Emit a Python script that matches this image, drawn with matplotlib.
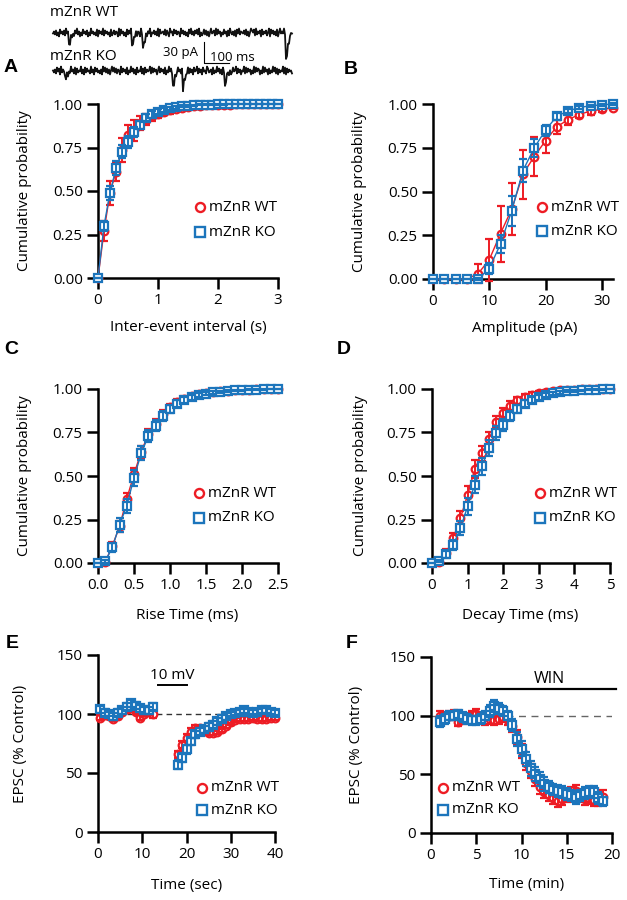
import numpy as np
import matplotlib
matplotlib.use("Agg")
import matplotlib.pyplot as plt

plt.rcParams['font.family'] = ['Open Sans', 'DejaVu Sans']

RED = '#ED1C24'
BLUE = '#1C75BC'
FS = 11

# ---------------- data ----------------
# A: inter-event interval (s)
a_x = [0.0, 0.1, 0.2, 0.3, 0.4, 0.5, 0.6, 0.7, 0.8, 0.9, 1.0, 1.1, 1.2, 1.3, 1.4, 1.5,
       1.6, 1.7, 1.8, 1.9, 2.0, 2.1, 2.2, 2.3, 2.4, 2.5, 2.6, 2.7, 2.8, 2.9, 3.0]
a_wt = [0, 0.27, 0.49, 0.61, 0.735, 0.82, 0.85, 0.89, 0.91, 0.93, 0.945, 0.955, 0.965, 0.972,
        0.978, 0.983, 0.987, 0.99, 0.992, 0.994, 0.995, 0.996, 0.997, 0.998, 0.998, 0.999,
        0.999, 1.0, 1.0, 1.0, 1.0]
a_wt_err = [0, 0.06, 0.07, 0.05, 0.07, 0.06, 0.06, 0.04, 0.03, 0.03, 0.025, 0.02, 0.02, 0.015,
            0.012, 0.01, 0.01, 0.008, 0.006, 0.005, 0.004, 0.003, 0.003, 0.002, 0.002, 0.001,
            0.001, 0.001, 0, 0, 0]
a_ko = [0, 0.30, 0.49, 0.63, 0.727, 0.78, 0.84, 0.88, 0.92, 0.94, 0.955, 0.965, 0.975, 0.982,
        0.987, 0.99, 0.993, 0.995, 0.996, 0.997, 0.998, 0.998, 0.999, 0.999, 1.0, 1.0, 1.0,
        1.0, 1.0, 1.0, 1.0]
a_ko_err = [0, 0.03, 0.04, 0.04, 0.04, 0.035, 0.03, 0.025, 0.02, 0.02, 0.015, 0.012, 0.01,
            0.008, 0.006, 0.005, 0.004, 0.003, 0.002, 0.002, 0.001, 0.001, 0.001, 0, 0, 0, 0,
            0, 0, 0, 0]

# B: amplitude (pA)
b_x = [0, 2, 4, 6, 8, 10, 12, 14, 16, 18, 20, 22, 24, 26, 28, 30, 32]
b_wt = [0, 0, 0, 0, 0.03, 0.11, 0.26, 0.40, 0.60, 0.70, 0.79, 0.87, 0.91, 0.94, 0.96, 0.97, 0.98]
b_wt_err = [0, 0, 0, 0, 0.055, 0.12, 0.16, 0.15, 0.14, 0.11, 0.07, 0.04, 0.03, 0.02, 0.02, 0.015, 0.01]
b_ko = [0, 0, 0, 0, 0, 0.06, 0.20, 0.39, 0.62, 0.75, 0.85, 0.93, 0.96, 0.98, 0.99, 0.995, 1.0]
b_ko_err = [0, 0, 0, 0, 0.005, 0.03, 0.05, 0.085, 0.065, 0.05, 0.03, 0.02, 0.01, 0.01, 0.005, 0.005, 0.003]

# C: rise time (ms)
c_x = [0.0, 0.1, 0.2, 0.3, 0.4, 0.5, 0.6, 0.7, 0.8, 0.9, 1.0, 1.1, 1.2, 1.3, 1.4, 1.5,
       1.6, 1.7, 1.8, 1.9, 2.0, 2.1, 2.2, 2.3, 2.4, 2.5]
c_wt = [0, 0.005, 0.10, 0.21, 0.37, 0.51, 0.64, 0.74, 0.80, 0.855, 0.895, 0.925, 0.945,
        0.96, 0.97, 0.978, 0.984, 0.988, 0.991, 0.994, 0.996, 0.997, 0.998, 0.999, 1.0, 1.0]
c_wt_err = [0, 0.005, 0.02, 0.03, 0.035, 0.035, 0.035, 0.03, 0.03, 0.025, 0.02, 0.018, 0.015,
            0.012, 0.01, 0.008, 0.006, 0.005, 0.004, 0.003, 0.002, 0.002, 0.001, 0.001, 0, 0]
c_ko = [0, 0.01, 0.09, 0.22, 0.33, 0.49, 0.63, 0.73, 0.79, 0.845, 0.885, 0.915, 0.937, 0.952,
        0.964, 0.973, 0.98, 0.985, 0.989, 0.992, 0.994, 0.996, 0.997, 0.998, 0.999, 1.0]
c_ko_err = [0, 0.01, 0.025, 0.04, 0.04, 0.045, 0.04, 0.035, 0.03, 0.03, 0.025, 0.02, 0.018,
            0.015, 0.012, 0.01, 0.008, 0.006, 0.005, 0.004, 0.003, 0.002, 0.002, 0.001, 0.001, 0]

# D: decay time (ms)
d_x = [0.0, 0.2, 0.4, 0.6, 0.8, 1.0, 1.2, 1.4, 1.6, 1.8, 2.0, 2.2, 2.4, 2.6, 2.8, 3.0,
       3.2, 3.4, 3.6, 3.8, 4.0, 4.2, 4.4, 4.6, 4.8, 5.0]
d_wt = [0, 0.005, 0.06, 0.145, 0.26, 0.39, 0.54, 0.63, 0.71, 0.81, 0.86, 0.905, 0.935, 0.955,
        0.968, 0.977, 0.984, 0.989, 0.992, 0.995, 0.997, 0.998, 0.999, 0.999, 1.0, 1.0]
d_wt_err = [0, 0.005, 0.02, 0.03, 0.04, 0.05, 0.05, 0.045, 0.04, 0.035, 0.03, 0.025, 0.02,
            0.018, 0.015, 0.012, 0.01, 0.008, 0.006, 0.005, 0.004, 0.003, 0.002, 0.002, 0.001, 0]
d_ko = [0, 0.01, 0.05, 0.105, 0.20, 0.325, 0.45, 0.555, 0.66, 0.745, 0.795, 0.845, 0.885, 0.915,
        0.935, 0.952, 0.965, 0.975, 0.982, 0.987, 0.99, 0.993, 0.995, 0.997, 0.998, 0.999]
d_ko_err = [0, 0.005, 0.02, 0.03, 0.04, 0.05, 0.05, 0.05, 0.045, 0.04, 0.035, 0.03, 0.025,
            0.02, 0.018, 0.015, 0.012, 0.01, 0.008, 0.006, 0.005, 0.004, 0.003, 0.002, 0.002, 0.001]

# E: time (sec)
e_x = [0.5, 1.5, 2.5, 3.5, 4.5, 5.5, 6.5, 7.5, 8.5, 9.5, 10.5, 11.5, 12.5,
       18, 19, 20, 21, 22, 23, 24, 25, 26, 27, 28, 29, 30, 31, 32, 33, 34, 35, 36, 37, 38, 39, 40]
e_wt = [97, 99, 98, 96, 98, 102, 104, 105, 102, 97, 100, 102, 100,
        66, 74, 80, 85, 88, 88, 86, 84, 84, 85, 87, 90, 93, 95, 96, 96, 96, 97, 96, 96, 96, 97, 97]
e_wt_err = [2, 2, 2, 2, 2, 3, 3, 3, 2, 2, 2, 3, 3,
            3, 3, 3, 3, 3, 2, 2, 2, 2, 2, 2, 2, 2, 2, 2, 2, 2, 2, 2, 2, 2, 2, 2]
e_ko = [104, 101, 100, 98, 101, 103, 106, 109, 107, 105, 103, 103, 106,
        57, 63, 70, 77, 83, 85, 87, 89, 91, 94, 96, 98, 100, 101, 102, 103, 102, 101, 102, 103,
        103, 102, 101]
e_ko_err = [3, 3, 2, 3, 3, 3, 3, 3, 3, 3, 3, 3, 3,
            4, 4, 4, 3, 3, 3, 3, 3, 3, 3, 3, 3, 2, 2, 2, 2, 2, 2, 2, 2, 2, 2, 2]

# F: time (min)
f_x = [1, 1.5, 2, 2.5, 3, 3.5, 4, 4.5, 5, 5.5, 6, 6.5, 7, 7.5, 8, 8.5, 9, 9.5, 10, 10.5,
       11, 11.5, 12, 12.5, 13, 13.5, 14, 14.5, 15, 15.5, 16, 16.5, 17, 17.5, 18, 18.5, 19]
f_wt = [100, 99, 100, 101, 95, 97, 98, 100, 101, 98, 96, 97, 96, 97, 99, 96, 91, 82, 70, 60,
        53, 46, 39, 35, 32, 30, 27, 29, 31, 34, 36, 31, 29, 30, 28, 28, 31]
f_wt_err = [4, 4, 4, 4, 4, 4, 4, 4, 5, 4, 4, 4, 4, 4, 4, 4, 5, 6, 6, 6,
            6, 6, 6, 5, 5, 5, 5, 5, 5, 5, 5, 5, 5, 5, 5, 5, 6]
f_ko = [95, 97, 100, 100, 101, 99, 97, 96, 96, 97, 100, 104, 108, 106, 104, 100, 92, 80, 72, 63,
        55, 50, 46, 42, 39, 37, 36, 35, 33, 32, 30, 32, 34, 35, 35, 30, 27]
f_ko_err = [5, 4, 4, 4, 4, 4, 4, 4, 4, 4, 4, 5, 5, 5, 4, 4, 5, 6, 6, 6,
            6, 6, 6, 6, 5, 5, 5, 5, 5, 5, 5, 5, 5, 5, 5, 5, 4]

# example traces (noise digits typed per 4-ms sample, events as (sample, amplitude pA))
trace_wt_noise = ("4637251846372946518352749361528463715294635281746392746351824736519284"
                  "6251837496374826519356283749154736291845638274195628473651947362518493"
                  "6274839152483726159457293846153846172953627184936547382615975829364718"
                  "364725918473628159464938271564")
trace_ko_noise = ("5362847193648271539462817354926183745293618473526194837261594837265193"
                  "7462815394726183549271836459283746159374628153947261835946271835492736"
                  "1845927361845297346182539472618354972613845927361549283746152938476152"
                  "938461725394827163549281736452")
trace_wt_events = [(16, 17), (79, 20), (90, 22), (233, 42)]
trace_ko_events = [(12, 12), (120, 23), (130, 24), (172, 22)]
event_profile = [1.0, 0.7, 0.45, 0.25, 0.12, 0.05]

# ---------------- figure ----------------
W, H = 627, 900
fig = plt.figure(figsize=(W / 100, H / 100), dpi=100)


def add_ax(l, t, r, b):
    return fig.add_axes([l / W, 1 - b / H, (r - l) / W, (b - t) / H])


def style(ax):
    for s in ['top', 'right']:
        ax.spines[s].set_visible(False)
    for s in ['left', 'bottom']:
        ax.spines[s].set_linewidth(1.8)
    ax.tick_params(width=1.8, length=8, labelsize=FS, pad=3, color='black')


def series(ax, x, y, e, color, marker, z):
    cont = ax.errorbar(x, y, yerr=e, fmt='-' + marker, color=color, mfc='white', mec=color,
                       ms=5.5, mew=1.6, lw=1.0, elinewidth=1.4, capsize=3.2, capthick=1.4,
                       zorder=z)
    for art in cont.get_children():
        art.set_clip_on(False)
        art.set_zorder(z)
    cont.lines[0].set_clip_on(False)


def legend(ax, fx, fy1, fy2):
    for fy, col, mk, lab in [(fy1, RED, 'o', 'mZnR WT'), (fy2, BLUE, 's', 'mZnR KO')]:
        ax.plot([fx], [fy], marker=mk, ms=6.5, mfc='white', mec=col, mew=1.7,
                transform=ax.transAxes, clip_on=False, zorder=10)
        ax.text(fx + 0.05, fy, lab, transform=ax.transAxes, fontsize=FS, va='center',
                ha='left', zorder=10)


def labels(ax, xl, yl, xlc, ylc):
    ax.set_xlabel(xl, fontsize=FS)
    ax.set_ylabel(yl, fontsize=FS)
    ax.xaxis.label.set_va('center')
    ax.yaxis.label.set_va('center')
    ax.xaxis.set_label_coords(*xlc)
    ax.yaxis.set_label_coords(*ylc)


cum_ticks = [0, 0.25, 0.5, 0.75, 1.0]
cum_labels = ['0.00', '0.25', '0.50', '0.75', '1.00']

# A
axA = add_ax(98, 104, 278, 278)
style(axA)
series(axA, a_x, a_wt, a_wt_err, RED, 'o', 3)
series(axA, a_x, a_ko, a_ko_err, BLUE, 's', 4)
axA.set_xlim(0, 3)
axA.set_ylim(0, 1)
axA.set_xticks([0, 1, 2, 3])
axA.set_yticks(cum_ticks, cum_labels)
labels(axA, 'Inter-event interval (s)', 'Cumulative probability', (0.5, -0.287), (-0.406, 0.5))
legend(axA, 0.567, 0.408, 0.264)

# B
axB = add_ax(433, 104, 613, 279)
style(axB)
series(axB, b_x, b_wt, b_wt_err, RED, 'o', 3)
series(axB, b_x, b_ko, b_ko_err, BLUE, 's', 4)
axB.set_xlim(0, 32)
axB.set_ylim(0, 1)
axB.set_xticks([0, 10, 20, 30])
axB.set_yticks(cum_ticks, cum_labels)
labels(axB, 'Amplitude (pA)', 'Cumulative probability', (0.511, -0.28), (-0.406, 0.5))
legend(axB, 0.606, 0.411, 0.274)

# C
axC = add_ax(98, 389, 278, 563)
style(axC)
series(axC, c_x, c_wt, c_wt_err, RED, 'o', 3)
series(axC, c_x, c_ko, c_ko_err, BLUE, 's', 4)
axC.set_xlim(0, 2.5)
axC.set_ylim(0, 1)
axC.set_xticks([0, 0.5, 1.0, 1.5, 2.0, 2.5], ['0.0', '0.5', '1.0', '1.5', '2.0', '2.5'])
axC.set_yticks(cum_ticks, cum_labels)
labels(axC, 'Rise Time (ms)', 'Cumulative probability', (0.494, -0.299), (-0.406, 0.5))
legend(axC, 0.561, 0.402, 0.259)

# D
axD = add_ax(432, 389, 610, 563)
style(axD)
series(axD, d_x, d_wt, d_wt_err, RED, 'o', 3)
series(axD, d_x, d_ko, d_ko_err, BLUE, 's', 4)
axD.set_xlim(0, 5)
axD.set_ylim(0, 1)
axD.set_xticks([0, 1, 2, 3, 4, 5])
axD.set_yticks(cum_ticks, cum_labels)
labels(axD, 'Decay Time (ms)', 'Cumulative probability', (0.494, -0.299), (-0.404, 0.5))
legend(axD, 0.607, 0.402, 0.259)

# E
axE = add_ax(98, 655, 275, 832)
style(axE)
axE.plot([0, 40], [100, 100], ls=(0, (4, 3)), color='#333333', lw=1.0, zorder=1)
e_n = 13
series(axE, e_x[:e_n], e_wt[:e_n], e_wt_err[:e_n], RED, 'o', 3)
series(axE, e_x[e_n:], e_wt[e_n:], e_wt_err[e_n:], RED, 'o', 3)
series(axE, e_x[:e_n], e_ko[:e_n], e_ko_err[:e_n], BLUE, 's', 4)
series(axE, e_x[e_n:], e_ko[e_n:], e_ko_err[e_n:], BLUE, 's', 4)
axE.set_xlim(0, 40)
axE.set_ylim(0, 150)
axE.set_xticks([0, 10, 20, 30, 40])
axE.set_yticks([0, 50, 100, 150])
axE.plot([13.6, 20.1], [124.6, 124.6], color='black', lw=1.4, clip_on=False)
axE.text(16.8, 132.5, '10 mV', ha='center', va='center', fontsize=FS)
labels(axE, 'Time (sec)', 'EPSC (% Control)', (0.503, -0.30), (-0.44, 0.5))
legend(axE, 0.588, 0.249, 0.124)

# F
axF = add_ax(431, 657, 612, 833)
style(axF)
axF.plot([0, 20], [100, 100], ls=(0, (5, 4)), color='#666666', lw=1.0, zorder=1)
series(axF, f_x, f_wt, f_wt_err, RED, 'o', 3)
series(axF, f_x, f_ko, f_ko_err, BLUE, 's', 4)
axF.set_xlim(0, 20)
axF.set_ylim(0, 150)
axF.set_xticks([0, 5, 10, 15, 20])
axF.set_yticks([0, 50, 100, 150])
axF.plot([6.2, 20.4], [122.7, 122.7], color='black', lw=1.6, clip_on=False)
axF.text(13.1, 131.5, 'WIN', ha='center', va='center', fontsize=FS + 0.5)
labels(axF, 'Time (min)', 'EPSC (% Control)', (0.53, -0.295), (-0.409, 0.5))
legend(axF, 0.066, 0.256, 0.131)

# panel letters
for lab, (px, py) in {'A': (11, 68), 'B': (351, 70), 'C': (11, 350), 'D': (344, 350),
                      'E': (12, 643), 'F': (352, 643)}.items():
    fig.text(px / W, 1 - py / H, lab, fontsize=14, fontweight='bold', ha='center', va='center',
             family=['Liberation Sans', 'DejaVu Sans'])

# traces
axT = fig.add_axes([40 / W, 1 - 95 / H, 260 / W, 95 / H])
axT.set_axis_off()
axT.set_xlim(-52, 988)
axT.set_ylim(-88.6, 47.1)
ko_offset = -54.3


def build(noise, events, offset):
    vals = np.array([(int(c) - 4.5) * 1.4 for c in noise]) + offset
    for idx, amp in events:
        for k, f in enumerate(event_profile):
            if idx + k < len(vals):
                vals[idx + k] -= amp * f
    t = np.arange(len(vals)) * 4.0
    return t, vals


t_wt, v_wt = build(trace_wt_noise, trace_wt_events, 0.0)
t_ko, v_ko = build(trace_ko_noise, trace_ko_events, ko_offset)
axT.plot(t_wt, v_wt, color='#111111', lw=1.3)
axT.plot(t_ko, v_ko, color='#111111', lw=1.3)
# scale bar: 30 pA, 100 ms
axT.plot([604, 604, 704], [-12.9, -42.9, -42.9], color='black', lw=0.8)
axT.text(580, -27.5, '30 pA', ha='right', va='center', fontsize=9.5)
axT.text(626, -34.5, '100 ms', ha='left', va='center', fontsize=9.5)
fig.text(50 / W, 1 - 13 / H, 'mZnR WT', ha='left', va='center', fontsize=FS)
fig.text(50 / W, 1 - 57 / H, 'mZnR KO', ha='left', va='center', fontsize=FS)

fig.savefig('out.png', dpi=100)
